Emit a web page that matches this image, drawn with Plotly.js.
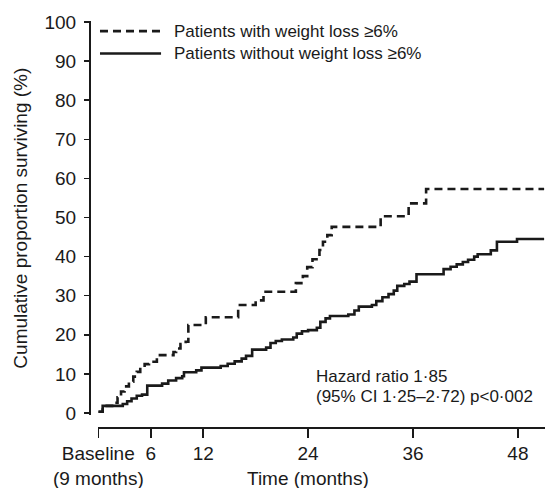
<!DOCTYPE html>
<html>
<head>
<meta charset="utf-8">
<script src="https://cdn.plot.ly/plotly-3.0.1.min.js"></script>
<style>html,body{margin:0;padding:0;background:#fff;}#chart{width:545px;height:488px;}</style>
</head>
<body>
<div id="chart"></div>
<script>
// Patients with weight loss >=6% (dashed)
const monthsLoss = [0, 0.5, 1.9, 2.2, 2.6, 3.0, 3.5, 4.0, 4.4, 4.8, 5.3, 5.8, 6.7, 8.6, 8.9, 9.4, 10.0, 10.3, 12.3, 16.0, 18.0, 18.9, 22.6, 23.4, 23.9, 24.5, 25.3, 25.7, 26.2, 26.7, 32.3, 35.5, 37.5, 51.0];
const survLoss   = [0.3, 1.8, 2.6, 4.0, 5.5, 6.8, 8.0, 9.3, 10.5, 11.7, 12.5, 13.1, 14.8, 15.6, 16.5, 17.6, 18.2, 22.5, 24.5, 27.6, 28.8, 31.0, 33.2, 35.0, 37.3, 39.3, 41.7, 43.8, 45.5, 47.6, 50.3, 53.6, 57.3, 57.3];

// Patients without weight loss >=6% (solid)
const monthsNoLoss = [0, 0.5, 2.8, 3.3, 3.8, 4.4, 5.0, 5.6, 7.3, 8.0, 8.9, 9.6, 9.8, 11.2, 11.8, 14.0, 14.8, 15.6, 16.4, 16.9, 17.6, 19.2, 19.7, 20.3, 21.0, 22.3, 22.7, 23.3, 24.0, 25.0, 25.4, 26.0, 26.5, 28.6, 29.3, 29.8, 31.3, 31.8, 32.5, 33.2, 33.8, 34.2, 35.0, 35.6, 36.4, 39.5, 40.3, 41.0, 41.7, 42.3, 43.0, 43.4, 44.9, 45.6, 47.9, 51.0];
const survNoLoss   = [0.3, 1.8, 2.3, 3.0, 3.7, 4.4, 4.7, 7.0, 7.5, 8.3, 8.9, 9.4, 10.4, 10.9, 11.6, 12.0, 12.6, 13.2, 13.9, 14.6, 16.2, 16.7, 17.9, 18.4, 18.8, 19.3, 20.3, 20.9, 21.2, 21.8, 23.3, 24.2, 24.8, 25.2, 26.2, 27.2, 27.6, 28.6, 29.6, 30.4, 31.3, 32.5, 33.0, 33.6, 35.5, 36.8, 37.4, 38.0, 38.6, 39.2, 40.0, 40.6, 41.6, 43.8, 44.5, 44.5];

const xTickVals = [0, 6, 12, 24, 36, 48];
const xTickText = ['Baseline<br>(9 months)', '6', '12', '24', '36', '48'];
const yTickVals = [0, 10, 20, 30, 40, 50, 60, 70, 80, 90, 100];

const seriesNames = ['Patients with weight loss \u22656%', 'Patients without weight loss \u22656%'];

const FONT = 'Liberation Sans, Arial, sans-serif';

const traces = [
  {x: monthsLoss, y: survLoss, type: 'scatter', mode: 'lines', line: {shape: 'hv', color: '#1a1a1a', width: 2.6, dash: '8px,5px'}, name: seriesNames[0], showlegend: false, hoverinfo: 'skip'},
  {x: monthsNoLoss, y: survNoLoss, type: 'scatter', mode: 'lines', line: {shape: 'hv', color: '#1a1a1a', width: 2.6}, name: seriesNames[1], showlegend: false, hoverinfo: 'skip'}
];

const layout = {
  width: 545, height: 488,
  margin: {l: 89, r: 0, t: 21, b: 61},
  paper_bgcolor: '#fff', plot_bgcolor: '#fff',
  font: {family: FONT, color: '#1a1a1a', size: 19},
  showlegend: false,
  xaxis: {
    domain: [0.0204, 1], range: [0, 51.1], anchor: 'free', position: 0,
    showline: true, linecolor: '#1a1a1a', linewidth: 1.5,
    ticks: 'outside', ticklen: 9, tickwidth: 1.5, tickcolor: '#1a1a1a',
    tickvals: xTickVals, ticktext: xTickText, tickfont: {size: 19}, tickangle: 0,
    showgrid: false, zeroline: false
  },
  yaxis: {
    domain: [0.0288, 1], range: [-0.6, 100.26], anchor: 'free', position: 0,
    showline: true, linecolor: '#1a1a1a', linewidth: 1.5,
    ticks: 'outside', ticklen: 5, tickwidth: 1.5, tickcolor: '#1a1a1a',
    tickvals: yTickVals, tickfont: {size: 19}, ticklabelstandoff: 4,
    showgrid: false, zeroline: false,
    title: {text: 'Cumulative proportion surviving (%)', font: {size: 19}, standoff: 10}
  },
  shapes: [
    {type: 'line', xref: 'paper', yref: 'paper', x0: 0.0241, x1: 0.158, y0: 0.975, y1: 0.975, line: {color: '#1a1a1a', width: 2.6, dash: '8px,5px'}},
    {type: 'line', xref: 'paper', yref: 'paper', x0: 0.0241, x1: 0.158, y0: 0.920, y1: 0.920, line: {color: '#1a1a1a', width: 2.6}}
  ],
  annotations: [
    {xref: 'paper', yref: 'paper', x: 0.182, y: 0.975, xanchor: 'left', yanchor: 'middle', text: seriesNames[0], showarrow: false, font: {size: 17}},
    {xref: 'paper', yref: 'paper', x: 0.182, y: 0.920, xanchor: 'left', yanchor: 'middle', text: seriesNames[1], showarrow: false, font: {size: 17}},
    {xref: 'paper', yref: 'paper', x: 0.493, y: 0.1256, xanchor: 'left', yanchor: 'middle', text: 'Hazard ratio 1\u00b785', showarrow: false, font: {size: 17}},
    {xref: 'paper', yref: 'paper', x: 0.493, y: 0.0746, xanchor: 'left', yanchor: 'middle', text: '(95% CI 1\u00b725\u20132\u00b772) p<0\u00b7002', showarrow: false, font: {size: 17}},
    {xref: 'paper', yref: 'paper', x: (308 - 89) / 456, y: -0.128, xanchor: 'center', yanchor: 'middle', text: 'Time (months)', showarrow: false, font: {size: 19}}
  ]
};

Plotly.newPlot('chart', traces, layout, {staticPlot: true, displayModeBar: false});
</script>
</body>
</html>
